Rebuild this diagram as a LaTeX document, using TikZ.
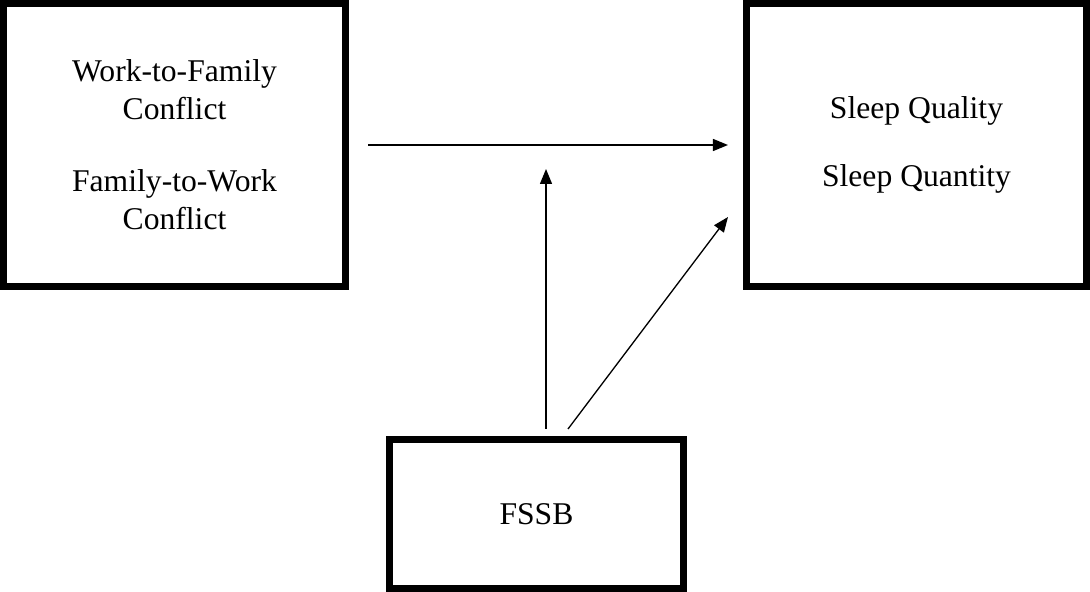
\documentclass[tikz,border=0pt]{standalone}
\usepackage{fontspec}
\setmainfont{Liberation Serif}
\usetikzlibrary{arrows.meta,positioning,calc}
\tikzset{
	varbox/.style={draw, line width=4pt, align=center, font=\fontsize{18}{21.6}\selectfont},
	link/.style={line width=0.75pt, -{Triangle[length=0.3cm,width=0.24cm]}}
}
\begin{document}
\begin{tikzpicture}
	\useasboundingbox (0,0) rectangle (21.8,-11.84);
	\node[varbox, minimum width=6.84cm, minimum height=5.66cm] (wfc) at (3.49,-2.9) {Work-to-Family\\Conflict\\[19.5pt]Family-to-Work\\Conflict};
	\node[varbox, minimum width=6.8cm, minimum height=5.66cm] (sleep) at (18.33,-2.9) {Sleep Quality\\[17pt]Sleep Quantity};
	\node[varbox, minimum width=5.88cm, minimum height=2.98cm] (fssb) at (10.73,-10.28) {FSSB};
	\coordinate (mid) at ($(wfc.east)!0.5!(sleep.west)$);
	\draw[link] ([xshift=0.38cm]wfc.east) -- ([xshift=-0.3cm]sleep.west);
	\draw[link] ($(fssb.north -| mid)+(0,0.14)$) -- ([yshift=-0.48cm]mid);
	\draw[link] ([shift={(0.63,0.14)}]fssb.north) -- ([shift={(-0.3,-1.44)}]sleep.west);
\end{tikzpicture}
\end{document}
